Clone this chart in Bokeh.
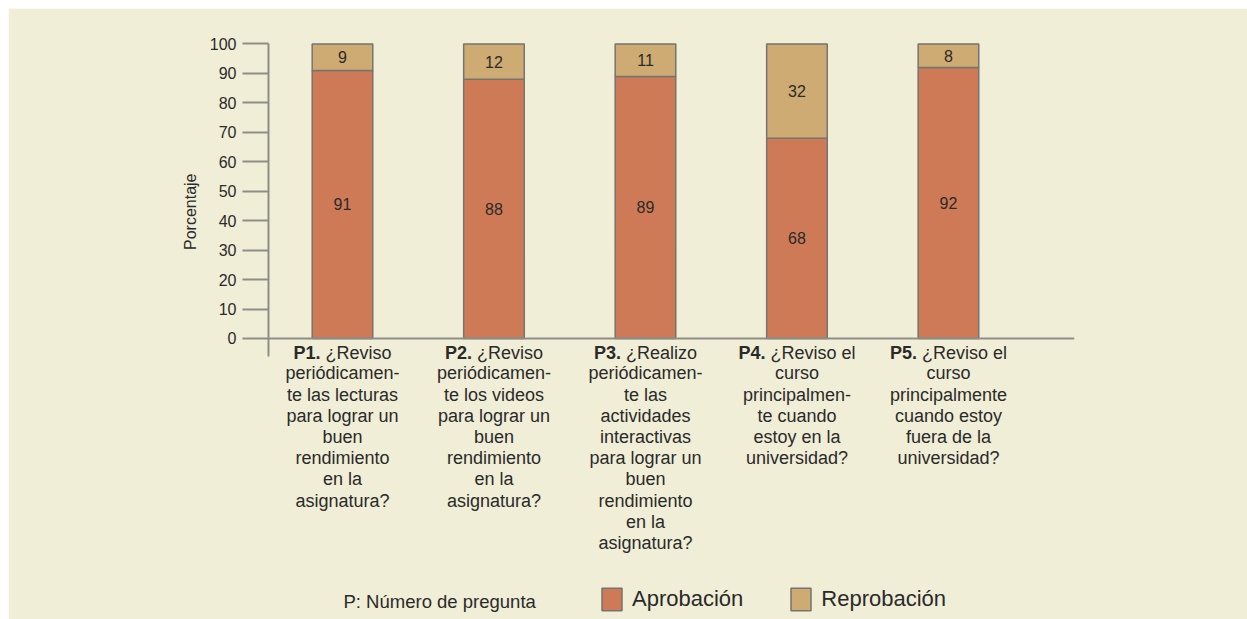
import math
from bokeh.plotting import figure
from bokeh.models import ColumnDataSource, Range1d, FixedTicker, Span, Label, Legend, LegendItem, Title
from bokeh.core.properties import value
from bokeh.embed import file_html
from bokeh.resources import INLINE

# ---------------- data ----------------
question_ids = ["P1.", "P2.", "P3.", "P4.", "P5."]
question_texts = [
    "¿Reviso\nperiódicamen-\nte las lecturas\npara lograr un\nbuen\nrendimiento\nen la\nasignatura?",
    "¿Reviso\nperiódicamen-\nte los videos\npara lograr un\nbuen\nrendimiento\nen la\nasignatura?",
    "¿Realizo\nperiódicamen-\nte las\nactividades\ninteractivas\npara lograr un\nbuen\nrendimiento\nen la\nasignatura?",
    "¿Reviso el\ncurso\nprincipalmen-\nte cuando\nestoy en la\nuniversidad?",
    "¿Reviso el\ncurso\nprincipalmente\ncuando estoy\nfuera de la\nuniversidad?",
]
aprobacion = [91, 88, 89, 68, 92]
reprobacion = [9, 12, 11, 32, 8]
series_names = ["Aprobación", "Reprobación"]
y_ticks = [0, 10, 20, 30, 40, 50, 60, 70, 80, 90, 100]
y_axis_title = "Porcentaje"
note_text = "P: Número de pregunta"

# ---------------- style ----------------
BG = "#F0EED6"
ORANGE = "#CE7A57"
TAN = "#CEAB72"
OUTLINE = "#747470"
AXIS = "#8E8E88"
TXT = "#2a2a2a"
FONT = "Liberation Sans"
CAT_SIZE = 18

xs = [i + 1 for i in range(len(question_ids))]

# approximate glyph widths (Arial / Liberation Sans metrics, per 1000 em)
W_REG = {' ': 278, '¿': 611, 'R': 722, 'e': 556, 'v': 500, 'i': 222, 's': 500,
         'o': 556, 'a': 556, 'l': 222, 'z': 500}
W_BOLD = {'P': 667, '.': 278}


def text_width(s, table, size):
    return sum(table.get(c, 556) for c in s) * size / 1000.0


p = figure(width=1239, height=611,
           x_range=Range1d(xs[0] - 0.4884, xs[-1] + 0.832),
           y_range=Range1d(-95.42, 104.58),
           output_backend="svg", toolbar_location=None,
           x_axis_location=None,
           min_border_left=260, min_border_right=173,
           min_border_top=22, min_border_bottom=0,
           background_fill_color=BG, border_fill_color=BG,
           outline_line_color=BG, outline_line_width=1)
p.margin = (8, 0, 0, 8)
p.grid.visible = False

src = ColumnDataSource(data={"x": xs, series_names[0]: aprobacion, series_names[1]: reprobacion})
rends = p.vbar_stack(series_names, x="x", width=0.4, source=src,
                     fill_color=[ORANGE, TAN], line_color=OUTLINE, line_width=1.5)

# zero line
p.add_layout(Span(location=0, dimension="width", line_color=AXIS, line_width=2))

# y axis
ax = p.yaxis[0]
ax.ticker = FixedTicker(ticks=y_ticks)
ax.bounds = (-6, 100)
ax.major_tick_out = 26
ax.major_tick_in = 0
ax.minor_tick_out = 0
ax.minor_tick_in = 0
ax.axis_line_color = AXIS
ax.axis_line_width = 2
ax.major_tick_line_color = AXIS
ax.major_tick_line_width = 2
ax.major_label_standoff = 6
ax.major_label_text_font_size = "16px"
ax.major_label_text_font = FONT
ax.major_label_text_color = TXT

# y axis title, placed beside the upper part of the axis as in the original
p.add_layout(Title(text=y_axis_title, align="right", offset=143, standoff=16,
                   text_font=FONT, text_font_size="16px", text_font_style="normal",
                   text_color=TXT), "left")

# value labels inside bars
lab_x, lab_y, lab_t = [], [], []
for x, a, r in zip(xs, aprobacion, reprobacion):
    lab_x += [x, x]
    lab_y += [a / 2.0, a + r / 2.0]
    lab_t += [str(a), str(r)]
p.text(x=lab_x, y=lab_y, text=lab_t, text_align="center", text_baseline="middle",
       text_font=value(FONT), text_font_size="16px", text_color=TXT)

# category labels (bold id + regular text)
b_off, b_t, r_off, r_t, rest_t = [], [], [], [], []
for x, qid, qt in zip(xs, question_ids, question_texts):
    first, rest = qt.split("\n", 1)
    wb = text_width(qid, W_BOLD, CAT_SIZE)
    ws = text_width(" ", W_REG, CAT_SIZE)
    wr = text_width(first, W_REG, CAT_SIZE)
    total = wb + ws + wr
    b_off.append(-total / 2.0)
    b_t.append(qid)
    r_off.append(-total / 2.0 + wb + ws)
    r_t.append(first)
    rest_t.append(rest)

cat_src = ColumnDataSource(data=dict(x=xs, boff=b_off, bt=b_t, roff=r_off, rt=r_t, rest=rest_t))
p.text(x="x", y=0, text="bt", x_offset="boff", y_offset=5, source=cat_src,
       text_align="left", text_baseline="top", text_font=value(FONT),
       text_font_size=f"{CAT_SIZE}px", text_font_style="bold", text_color=TXT)
p.text(x="x", y=0, text="rt", x_offset="roff", y_offset=5, source=cat_src,
       text_align="left", text_baseline="top", text_font=value(FONT),
       text_font_size=f"{CAT_SIZE}px", text_color=TXT)
p.text(x="x", y=0, text="rest", y_offset=25, source=cat_src,
       text_align="center", text_baseline="top", text_font=value(FONT),
       text_font_size=f"{CAT_SIZE}px", text_line_height=1.06, text_color=TXT)

# note
p.add_layout(Label(x=75, y=18, x_units="screen", y_units="screen", text=note_text,
                   text_align="left", text_baseline="middle",
                   text_font=FONT, text_font_size="18.5px", text_color=TXT))

legend = Legend(items=[LegendItem(label=n, renderers=[r]) for n, r in zip(series_names, rends)],
                orientation="horizontal", location=(331, 6),
                glyph_width=25, glyph_height=28, label_standoff=8, spacing=45,
                padding=0, margin=0, border_line_color=None, background_fill_alpha=0,
                label_text_font=FONT, label_text_font_size="22px", label_text_color=TXT)
p.add_layout(legend)

open("out.html", "w").write(file_html(p, INLINE))
